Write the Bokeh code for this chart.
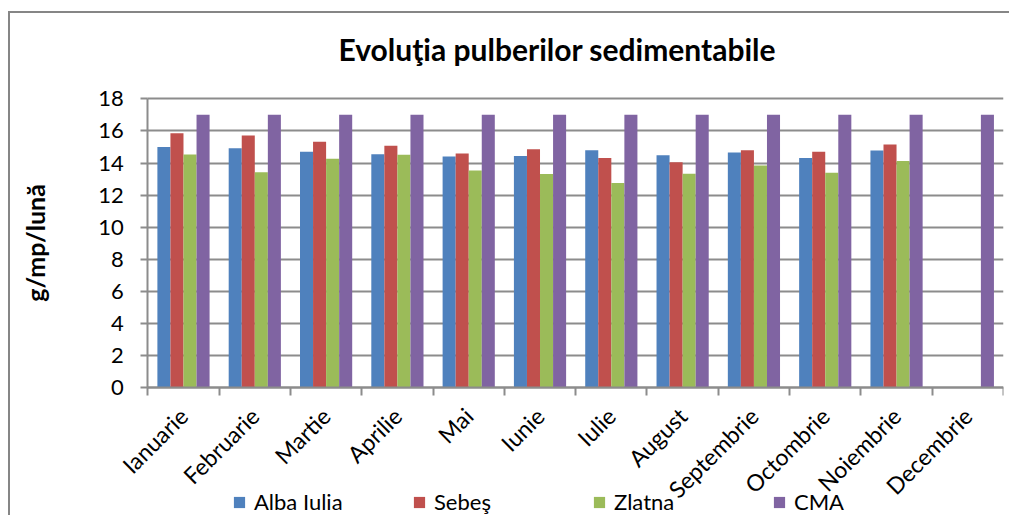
import math
from bokeh.plotting import figure
from bokeh.models import (ColumnDataSource, Range1d, FixedTicker, Legend, LegendItem)
from bokeh.transform import dodge
from bokeh.embed import file_html
from bokeh.resources import INLINE

nan = float("nan")

months = ["Ianuarie", "Februarie", "Martie", "Aprilie", "Mai", "Iunie",
          "Iulie", "August", "Septembrie", "Octombrie", "Noiembrie", "Decembrie"]
alba_iulia = [15.0, 14.92, 14.71, 14.55, 14.40, 14.44, 14.80, 14.49, 14.65, 14.32, 14.78, nan]
sebes = [15.85, 15.71, 15.32, 15.07, 14.59, 14.86, 14.32, 14.05, 14.80, 14.71, 15.15, nan]
zlatna = [14.53, 13.43, 14.26, 14.51, 13.53, 13.32, 12.76, 13.34, 13.84, 13.39, 14.13, nan]
cma = [17, 17, 17, 17, 17, 17, 17, 17, 17, 17, 17, 17]
series_names = ["Alba Iulia", "Sebeş", "Zlatna", "CMA"]
colors = ["#4F81BD", "#C0504D", "#9BBB59", "#8064A2"]
y_ticks = [0, 2, 4, 6, 8, 10, 12, 14, 16, 18]

FONT = "Lato"
GRID = "#8c8c8c"

n = len(months)
pos = [i + 0.5 for i in range(n)]
src = ColumnDataSource(dict(x=pos, a=alba_iulia, s=sebes, z=zlatna, c=cma))

# the frame covers nearly the whole canvas so that no text is clipped;
# both axes sit at data 0 inside it
p = figure(width=1009, height=515, x_range=Range1d(-1.926, n), y_range=Range1d(-7.95, 19.14),
           output_backend="svg", toolbar_location=None,
           min_border_left=10, min_border_right=6, min_border_top=80, min_border_bottom=0)
p.outline_line_color = None
p.background_fill_color = "white"
p.border_fill_alpha = 0
p.styles = {
    "background-color": "white",
    "background-image": "linear-gradient(#868686, #868686), linear-gradient(#868686, #868686)",
    "background-size": "100% 2px, 2px 100%",
    "background-position": "8px 11px, 8px 11px",
    "background-repeat": "no-repeat",
}

# horizontal grid limited to the category span
yg = p.ygrid[0]
if hasattr(yg, "cross_bounds"):
    yg.ticker = FixedTicker(ticks=y_ticks, minor_ticks=[])
    yg.grid_line_color = GRID
    yg.grid_line_width = 2
    yg.cross_bounds = (0, n)
else:
    yg.visible = False
    p.segment(x0=0, x1=n, y0=y_ticks, y1=y_ticks, line_color=GRID, line_width=2)
p.xgrid.visible = False

bw = 0.183
cols = ["a", "s", "z", "c"]
renderers = []
for k, (col, color) in enumerate(zip(cols, colors)):
    r = p.vbar(x=dodge("x", (k - 1.5) * bw, range=p.x_range), top=col, width=bw,
               source=src, fill_color=color, line_color=None)
    renderers.append(r)

# x axis at y = 0
xa = p.xaxis[0]
xa.fixed_location = 0
xa.bounds = (0, n)
xa.ticker = FixedTicker(ticks=pos, minor_ticks=list(range(n + 1)))
xa.major_label_overrides = {x: m for x, m in zip(pos, months)}
xa.major_label_orientation = math.pi / 4
xa.major_tick_line_color = None
xa.minor_tick_line_color = GRID
xa.minor_tick_line_width = 2
xa.minor_tick_in = 0
xa.minor_tick_out = 8
xa.axis_line_color = GRID
xa.axis_line_width = 2
xa.major_label_text_font = FONT
xa.major_label_text_font_size = "23px"
xa.major_label_text_color = "black"
xa.major_label_standoff = 16

# y axis at x = 0
ya = p.yaxis[0]
ya.fixed_location = 0
ya.bounds = (0, 18)
ya.ticker = FixedTicker(ticks=y_ticks, minor_ticks=[])
ya.major_tick_line_color = GRID
ya.major_tick_line_width = 2
ya.major_tick_in = 0
ya.major_tick_out = 7
ya.axis_line_color = GRID
ya.axis_line_width = 2
ya.major_label_text_font = FONT
ya.major_label_text_font_size = "22px"
ya.major_label_text_color = "black"
ya.major_label_standoff = 17
ya.axis_label = "g/mp/lună"
ya.axis_label_text_font = FONT
ya.axis_label_text_font_style = "bold"
ya.axis_label_text_font_size = "25px"
ya.axis_label_text_color = "black"
ya.axis_label_standoff = 45

legend = Legend(items=[LegendItem(label=s, renderers=[r]) for s, r in zip(series_names, renderers)],
                location=(222, 0), orientation="horizontal", glyph_width=14, glyph_height=14,
                label_standoff=8, label_width=150, spacing=8, padding=0, margin=0,
                border_line_color=None, background_fill_alpha=0,
                label_text_font=FONT, label_text_font_size="22px", label_text_color="black")
p.add_layout(legend)

# title
p.title.text = "Evoluţia pulberilor sedimentabile"
p.title.align = "left"
p.title.offset = 328
p.title.standoff = 28
p.title.text_font = FONT
p.title.text_font_style = "bold"
p.title.text_font_size = "30px"
p.title.text_color = "black"

open("out.html", "w").write(file_html(p, INLINE))
